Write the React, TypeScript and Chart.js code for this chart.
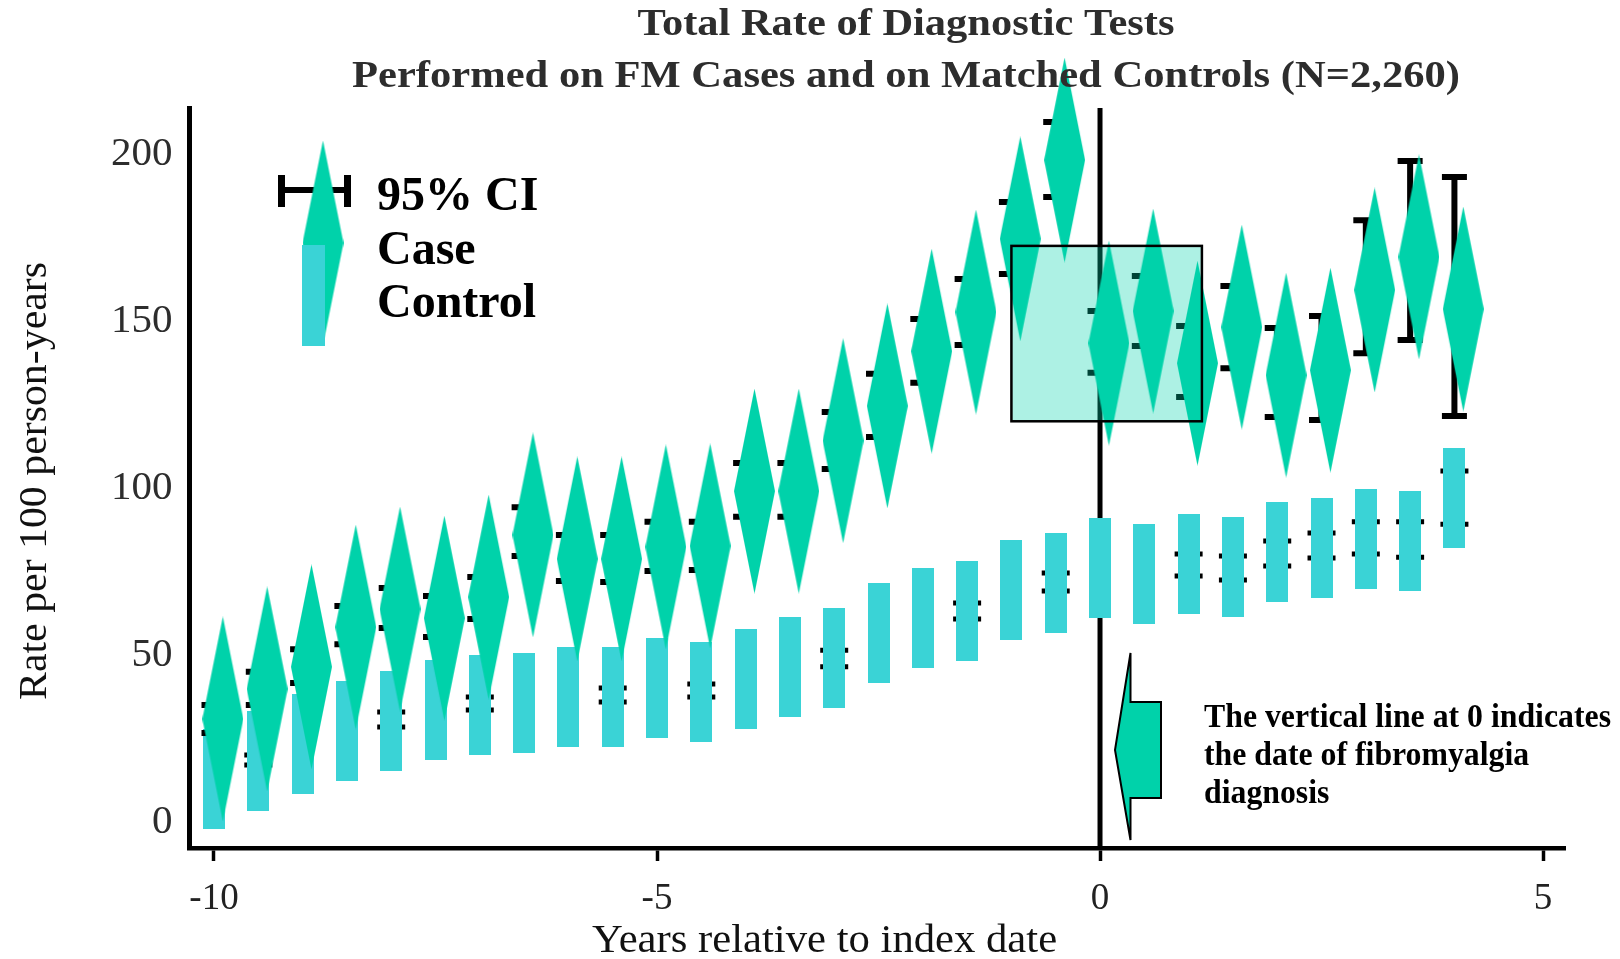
import React, { useEffect, useRef } from 'react';
import { Chart, registerables } from 'chart.js';

Chart.register(...registerables);

// ---------- data ----------
const years = [-10, -9.5, -9, -8.5, -8, -7.5, -7, -6.5, -6, -5.5, -5, -4.5, -4, -3.5, -3, -2.5, -2, -1.5, -1, -0.5, 0, 0.5, 1, 1.5, 2, 2.5, 3, 3.5, 4];
const caseRate = [30.9, 39.9, 46.5, 58.4, 63.8, 61.1, 67.4, 86.0, 78.8, 78.8, 82.4, 82.7, 99.1, 99.1, 114.2, 124.6, 141.0, 152.7, 174.6, 198.2, 143.4, 153.0, 137.4, 148.2, 133.8, 135.3, 159.3, 169.2, 153.6];
const caseLower = [26.7, 35.1, 41.7, 53.3, 58.1, 55.4, 60.8, 79.7, 72.2, 71.9, 75.2, 75.5, 91.4, 91.4, 105.7, 115.3, 131.5, 142.8, 164.1, 187.1, 134.5, 142.5, 127.3, 135.9, 121.3, 120.4, 140.4, 144.3, 121.6];
const caseUpper = [35.1, 45.0, 51.8, 64.7, 70.1, 67.7, 73.4, 94.3, 86.0, 86.0, 89.9, 89.9, 107.5, 107.5, 122.8, 134.2, 150.6, 162.6, 185.6, 209.6, 153.0, 163.5, 148.5, 160.5, 147.9, 151.5, 180.2, 197.9, 193.1];
const controlRate = [12.9, 18.3, 23.3, 27.4, 30.3, 33.6, 35.2, 35.8, 37.6, 37.6, 40.3, 39.1, 43.0, 46.5, 49.0, 56.5, 61.1, 63.1, 69.6, 71.7, 76.0, 74.4, 77.3, 76.5, 80.9, 82.2, 84.9, 84.3, 97.0];
const controlLower: (number | null)[] = [null, 17.1, null, null, 28.5, null, 33.6, null, null, 36.0, null, 37.5, null, null, 46.5, null, null, 60.8, null, 69.2, null, null, 73.7, 72.5, 76.7, 79.1, 80.3, 79.3, 89.2];
const controlUpper: (number | null)[] = [null, 20.1, null, null, 33.0, null, 37.5, null, null, 40.2, null, 41.4, null, null, 51.5, null, null, 65.6, null, 74.6, null, null, 80.3, 79.7, 84.2, 86.6, 89.9, 89.9, 105.1];
const caseOffset = 0.1;

const xTicks = [-10, -5, 0, 5];
const yTicks = [0, 50, 100, 150, 200];
const indexLine = 0;
const boxX = [-1.0, 1.15];
const boxY = [120, 172.5];

const titleLines = ['Total Rate of Diagnostic Tests', 'Performed on FM Cases and on Matched Controls (N=2,260)'];
const legendLabels = ['95% CI', 'Case', 'Control'];
const noteLines = ['The vertical line at 0 indicates', 'the date of fibromyalgia', 'diagnosis'];
const xTitle = 'Years relative to index date';
const yTitle = 'Rate per 100 person-years';

// ---------- styles ----------
const SERIF = '"Liberation Serif", "Times New Roman", Times, serif';
const CASE_COLOR = '#00D2AA';
const CONTROL_COLOR = '#3AD3D6';

function fitText(ctx: CanvasRenderingContext2D, text: string, x: number, y: number, targetW: number | null, align: CanvasTextAlign) {
  const w = ctx.measureText(text).width;
  const s = targetW ? targetW / w : 1;
  ctx.save();
  ctx.translate(x, y);
  ctx.scale(s, 1);
  ctx.textAlign = align;
  ctx.textBaseline = 'alphabetic';
  ctx.fillText(text, 0, 0);
  ctx.restore();
}

export default function App() {
  const ref = useRef<HTMLCanvasElement>(null);

  useEffect(() => {
    if (!ref.current) return;
    const DW = 41, DH = 205;
    const diamond = document.createElement('canvas');
    diamond.width = DW; diamond.height = DH;
    const dctx = diamond.getContext('2d')!;
    dctx.fillStyle = CASE_COLOR;
    dctx.beginPath();
    dctx.moveTo(0, DH / 2); dctx.lineTo(DW / 2, 0); dctx.lineTo(DW, DH / 2); dctx.lineTo(DW / 2, DH);
    dctx.closePath(); dctx.fill();

    const RW = 22, RH = 100;
    const rect = document.createElement('canvas');
    rect.width = RW; rect.height = RH;
    const rctx = rect.getContext('2d')!;
    rctx.fillStyle = CONTROL_COLOR;
    rctx.fillRect(0, 0, RW, RH);

    const errBar = (ctx: CanvasRenderingContext2D, x: number, yl: number, yu: number, half: number, lw: number) => {
      ctx.save();
      ctx.strokeStyle = '#000';
      ctx.lineWidth = lw;
      ctx.lineCap = 'butt';
      ctx.beginPath();
      ctx.moveTo(x, yl); ctx.lineTo(x, yu);
      ctx.moveTo(x - half, yl); ctx.lineTo(x + half, yl);
      ctx.moveTo(x - half, yu); ctx.lineTo(x + half, yu);
      ctx.stroke();
      ctx.restore();
    };

    const figPlugin = {
      id: 'figPlugin',
      beforeDatasetsDraw(chart: any) {
        const { ctx, chartArea, scales } = chart;
        const x0 = scales.x.getPixelForValue(indexLine);
        ctx.save();
        ctx.strokeStyle = '#000';
        ctx.lineWidth = 5;
        ctx.beginPath();
        ctx.moveTo(x0, chartArea.top);
        ctx.lineTo(x0, chartArea.bottom);
        ctx.stroke();
        ctx.restore();
      },
      beforeDatasetDraw(chart: any, args: any) {
        const { ctx, scales } = chart;
        const xs = scales.x, ys = scales.y;
        if (args.index === 0) {
          years.forEach((yr, i) => {
            const lo = controlLower[i], hi = controlUpper[i];
            if (lo == null || hi == null) return;
            errBar(ctx, xs.getPixelForValue(yr), ys.getPixelForValue(lo), ys.getPixelForValue(hi), 14, 5);
          });
        } else if (args.index === 1) {
          years.forEach((yr, i) => {
            errBar(ctx, xs.getPixelForValue(yr), ys.getPixelForValue(caseLower[i]), ys.getPixelForValue(caseUpper[i]), 12.5, 6);
          });
        }
      },
      afterDatasetsDraw(chart: any) {
        const { ctx, scales } = chart;
        const xs = scales.x, ys = scales.y;
        // highlight box
        const bx0 = xs.getPixelForValue(boxX[0]);
        const bx1 = xs.getPixelForValue(boxX[1]);
        const by0 = ys.getPixelForValue(boxY[1]);
        const by1 = ys.getPixelForValue(boxY[0]);
        ctx.save();
        ctx.fillStyle = 'rgba(0, 210, 170, 0.32)';
        ctx.fillRect(bx0, by0, bx1 - bx0, by1 - by0);
        ctx.strokeStyle = '#000';
        ctx.lineWidth = 2.5;
        ctx.strokeRect(bx0, by0, bx1 - bx0, by1 - by0);
        ctx.restore();

        // arrow
        ctx.save();
        ctx.fillStyle = CASE_COLOR;
        ctx.strokeStyle = '#000';
        ctx.lineWidth = 2;
        ctx.lineJoin = 'miter';
        ctx.beginPath();
        ctx.moveTo(1130.5, 653);
        ctx.lineTo(1115, 750);
        ctx.lineTo(1130.5, 840);
        ctx.lineTo(1130.5, 798);
        ctx.lineTo(1161, 798);
        ctx.lineTo(1161, 702);
        ctx.lineTo(1130.5, 702);
        ctx.closePath();
        ctx.fill();
        ctx.stroke();
        ctx.restore();

        // note text
        ctx.save();
        ctx.fillStyle = '#000';
        ctx.font = `bold 33px ${SERIF}`;
        const w0 = ctx.measureText(noteLines[0]).width;
        const s = 407 / w0;
        const base = [727, 765, 802.5];
        noteLines.forEach((t, i) => {
          const w = ctx.measureText(t).width * s;
          fitText(ctx, t, 1204, base[i], w, 'left');
        });
        ctx.restore();
      },
      afterDraw(chart: any) {
        const { ctx } = chart;
        // title
        ctx.save();
        ctx.fillStyle = '#2d2d2d';
        ctx.font = `bold 38px ${SERIF}`;
        fitText(ctx, titleLines[0], 906, 35, 537, 'center');
        fitText(ctx, titleLines[1], 906, 87, 1108, 'center');
        ctx.restore();

        // legend icons
        ctx.save();
        ctx.strokeStyle = '#000';
        ctx.lineWidth = 6;
        ctx.beginPath();
        ctx.moveTo(279, 190); ctx.lineTo(350, 190);
        ctx.stroke();
        ctx.lineWidth = 7;
        ctx.beginPath();
        ctx.moveTo(281.5, 175); ctx.lineTo(281.5, 207);
        ctx.moveTo(347.5, 175); ctx.lineTo(347.5, 207);
        ctx.stroke();
        ctx.drawImage(diamond, 323 - DW / 2, 243 - DH / 2, DW, DH);
        ctx.drawImage(rect, 313.5 - 11.5, 295.5 - 50.5, 23, 101);
        ctx.restore();

        // legend text
        ctx.save();
        ctx.fillStyle = '#000';
        ctx.font = `bold 48px ${SERIF}`;
        const lb = [210, 264, 317];
        legendLabels.forEach((t, i) => fitText(ctx, t, 377, lb[i], null, 'left'));
        ctx.restore();

        // axis titles
        ctx.save();
        ctx.fillStyle = '#111';
        ctx.font = `40px ${SERIF}`;
        fitText(ctx, xTitle, 824.6, 952, 465, 'center');
        ctx.translate(46, 481);
        ctx.rotate(-Math.PI / 2);
        fitText(ctx, yTitle, 0, 0, 438, 'center');
        ctx.restore();
      },
    };

    const chart = new Chart(ref.current, {
      type: 'scatter',
      data: {
        datasets: [
          {
            label: 'Control',
            data: years.map((yr, i) => ({ x: yr, y: controlRate[i] })),
            pointStyle: rect as any,
            pointRadius: 11,
            order: 2,
            clip: false as any,
            showLine: false,
          },
          {
            label: 'Case',
            data: years.map((yr, i) => ({ x: yr + caseOffset, y: caseRate[i] })),
            pointStyle: diamond as any,
            pointRadius: 20,
            order: 1,
            clip: false as any,
            showLine: false,
          },
        ],
      },
      options: {
        responsive: false,
        animation: false,
        events: [],
        layout: { padding: { top: 108, right: 55, left: 0, bottom: 0 } },
        plugins: {
          legend: { display: false },
          tooltip: { enabled: false },
          title: { display: false },
        },
        scales: {
          x: {
            type: 'linear',
            min: -10.2765,
            max: 5.248,
            afterBuildTicks: (axis: any) => { axis.ticks = xTicks.map((v) => ({ value: v })); },
            afterFit: (s: any) => { s.height = 111; },
            grid: { drawOnChartArea: false, drawTicks: true, tickLength: 13, tickWidth: 3.5, tickColor: '#000' },
            border: { display: true, color: '#000', width: 4.5 },
            ticks: {
              font: { family: SERIF, size: 37 },
              color: '#222',
              padding: 16,
              maxRotation: 0,
              autoSkip: false,
              callback: (v: any) => String(v),
            },
          },
          y: {
            type: 'linear',
            min: -7.72,
            max: 213.77,
            afterBuildTicks: (axis: any) => { axis.ticks = yTicks.map((v) => ({ value: v })); },
            afterFit: (s: any) => { s.width = 189.5; },
            grid: { drawOnChartArea: false, drawTicks: false },
            border: { display: true, color: '#000', width: 5 },
            ticks: {
              font: { family: SERIF, size: 41 },
              color: '#2d2d2d',
              padding: 17,
              callback: (v: any) => String(v),
            },
          },
        },
      },
      plugins: [figPlugin],
    } as any);

    return () => chart.destroy();
  }, []);

  return (
    <div style={{ position: 'fixed', left: 0, top: 0, width: 1620, height: 959, background: '#fff' }}>
      <canvas ref={ref} width={1620} height={959} style={{ display: 'block', width: 1620, height: 959 }} />
    </div>
  );
}
